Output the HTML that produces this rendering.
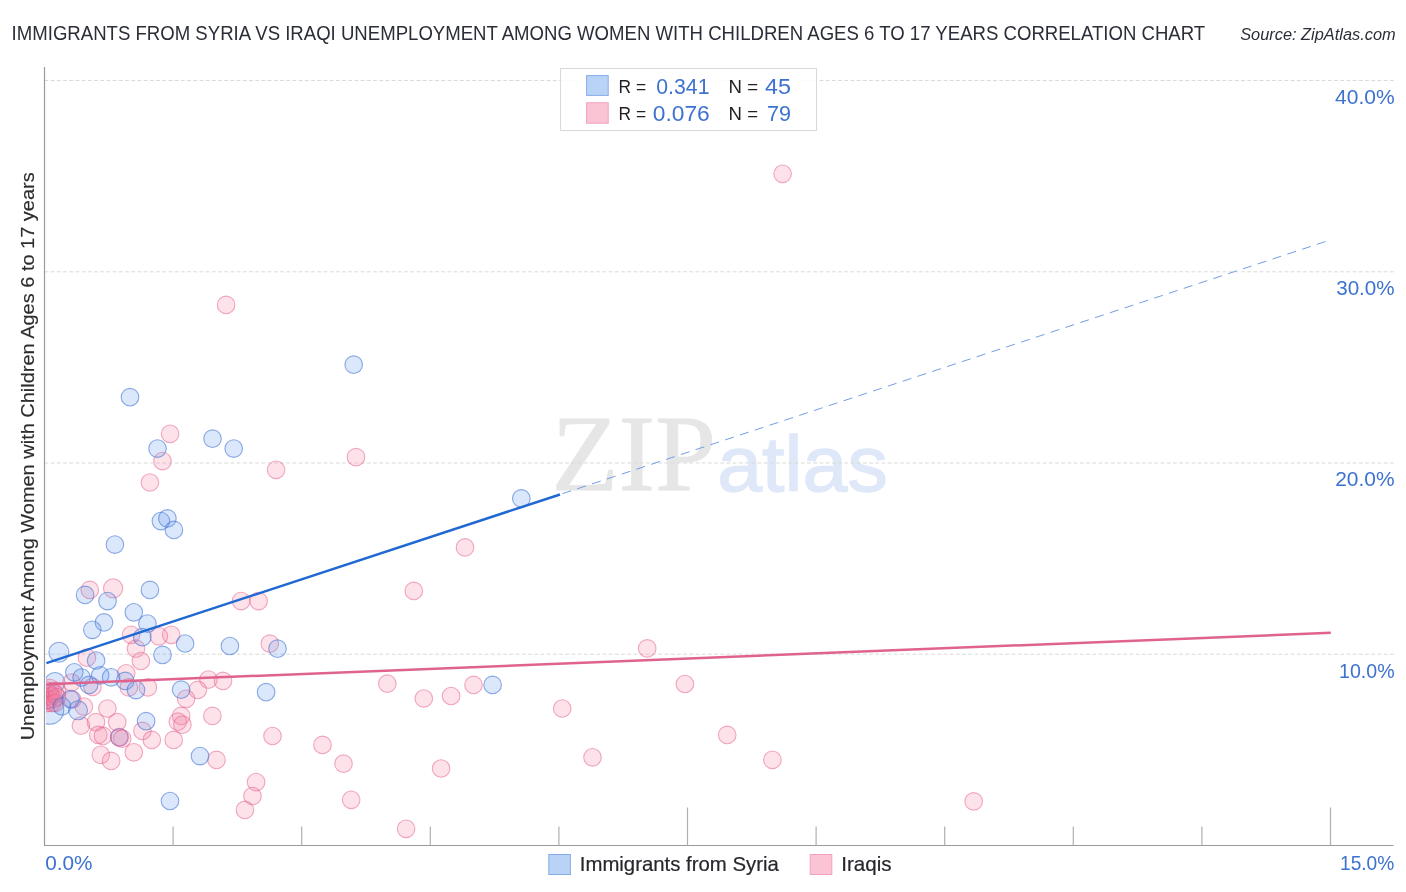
<!DOCTYPE html>
<html lang="en"><head><meta charset="utf-8"><title>Immigrants from Syria vs Iraqi Unemployment Among Women with Children Ages 6 to 17 years Correlation Chart</title>
<style>html,body{margin:0;padding:0;background:#fff}body{width:1406px;height:892px;overflow:hidden}svg{display:block}text{font-family:"Liberation Sans",sans-serif}.ser{font-family:"Liberation Serif",serif}.b{fill:rgba(98,152,235,.23);stroke:rgba(62,112,210,.58);stroke-width:1.1}.p{fill:rgba(245,130,165,.23);stroke:rgba(228,90,135,.5);stroke-width:1.1}</style></head><body>
<svg width="1406" height="892" viewBox="0 0 1406 892">
<rect width="1406" height="892" fill="#fff"/>
<text x="11.6" y="40" font-size="19.6" fill="#2b2e38" textLength="1193.6" lengthAdjust="spacingAndGlyphs">IMMIGRANTS FROM SYRIA VS IRAQI UNEMPLOYMENT AMONG WOMEN WITH CHILDREN AGES 6 TO 17 YEARS CORRELATION CHART</text>
<text x="1240.2" y="39.5" font-size="16" font-style="italic" fill="#2b2e38" textLength="155.5" lengthAdjust="spacingAndGlyphs">Source: ZipAtlas.com</text>
<text class="ser" x="551.5" y="490.4" font-size="108" fill="#e6e6e6" stroke="#e6e6e6" stroke-width="0.8" textLength="164.5" lengthAdjust="spacingAndGlyphs">ZIP</text>
<text x="717.2" y="490.6" font-size="77" fill="#dfe8f8" stroke="#dfe8f8" stroke-width="1.3" textLength="170.6" lengthAdjust="spacingAndGlyphs">atlas</text>
<line x1="44.5" y1="654.2" x2="1394" y2="654.2" stroke="#d9d9d9" stroke-width="1" stroke-dasharray="3.8 2.4"/>
<line x1="44.5" y1="463.0" x2="1394" y2="463.0" stroke="#d9d9d9" stroke-width="1" stroke-dasharray="3.8 2.4"/>
<line x1="44.5" y1="271.8" x2="1394" y2="271.8" stroke="#d9d9d9" stroke-width="1" stroke-dasharray="3.8 2.4"/>
<line x1="44.5" y1="80.5" x2="1394" y2="80.5" stroke="#d9d9d9" stroke-width="1" stroke-dasharray="3.8 2.4"/>
<line x1="44.5" y1="67" x2="44.5" y2="845.5" stroke="#9a9a9a" stroke-width="1.2"/>
<line x1="44.0" y1="845.5" x2="1393.5" y2="845.5" stroke="#9a9a9a" stroke-width="1.2"/>
<line x1="173.1" y1="826.5" x2="173.1" y2="845.5" stroke="#b0b0b0" stroke-width="1.2"/>
<line x1="301.7" y1="826.5" x2="301.7" y2="845.5" stroke="#b0b0b0" stroke-width="1.2"/>
<line x1="430.3" y1="826.5" x2="430.3" y2="845.5" stroke="#b0b0b0" stroke-width="1.2"/>
<line x1="558.9" y1="826.5" x2="558.9" y2="845.5" stroke="#b0b0b0" stroke-width="1.2"/>
<line x1="687.5" y1="807.5" x2="687.5" y2="845.5" stroke="#b0b0b0" stroke-width="1.2"/>
<line x1="816.1" y1="826.5" x2="816.1" y2="845.5" stroke="#b0b0b0" stroke-width="1.2"/>
<line x1="944.7" y1="826.5" x2="944.7" y2="845.5" stroke="#b0b0b0" stroke-width="1.2"/>
<line x1="1073.3" y1="826.5" x2="1073.3" y2="845.5" stroke="#b0b0b0" stroke-width="1.2"/>
<line x1="1201.9" y1="826.5" x2="1201.9" y2="845.5" stroke="#b0b0b0" stroke-width="1.2"/>
<line x1="1330.5" y1="807.5" x2="1330.5" y2="845.5" stroke="#b0b0b0" stroke-width="1.2"/>
<text transform="translate(33.7,740.3) rotate(-90)" font-size="18.4" fill="#2c2c2c" stroke="#2c2c2c" stroke-width="0.15" textLength="568" lengthAdjust="spacingAndGlyphs">Unemployment Among Women with Children Ages 6 to 17 years</text>
<text x="1335.0" y="104.1" font-size="19.8" fill="#3d72d0" textLength="59.59999999999991" lengthAdjust="spacingAndGlyphs">40.0%</text>
<text x="1336.2" y="295.2" font-size="19.8" fill="#3d72d0" textLength="58.399999999999864" lengthAdjust="spacingAndGlyphs">30.0%</text>
<text x="1335.2" y="486.2" font-size="19.8" fill="#3d72d0" textLength="59.399999999999864" lengthAdjust="spacingAndGlyphs">20.0%</text>
<text x="1339.0" y="677.8" font-size="19.8" fill="#3d72d0" textLength="55.59999999999991" lengthAdjust="spacingAndGlyphs">10.0%</text>
<text x="45.2" y="869.6" font-size="19.8" fill="#3d72d0" textLength="47.3" lengthAdjust="spacingAndGlyphs">0.0%</text>
<text x="1340" y="869.6" font-size="19.8" fill="#3d72d0" textLength="54.3" lengthAdjust="spacingAndGlyphs">15.0%</text>
<clipPath id="cp"><rect x="46" y="60" width="1350" height="785.5"/></clipPath><g clip-path="url(#cp)">
<circle class="b" cx="58.9" cy="652.2" r="10"/>
<circle class="b" cx="119.2" cy="737.2" r="8.8"/>
<circle class="b" cx="50" cy="710.5" r="13.7"/>
<circle class="b" cx="55" cy="682.5" r="10"/>
<circle class="b" cx="47" cy="700" r="8.8"/>
<circle class="b" cx="50" cy="694" r="8.8"/>
<circle class="p" cx="782.6" cy="173.8" r="8.8"/>
<circle class="p" cx="647.2" cy="648.4" r="8.8"/>
<circle class="p" cx="684.9" cy="684" r="8.8"/>
<circle class="p" cx="562.2" cy="708.5" r="8.8"/>
<circle class="p" cx="727.2" cy="734.9" r="8.8"/>
<circle class="p" cx="592.5" cy="757.3" r="8.8"/>
<circle class="p" cx="772.4" cy="759.8" r="8.8"/>
<circle class="p" cx="973.7" cy="801.4" r="8.8"/>
<circle class="p" cx="356.0" cy="457.2" r="8.8"/>
<circle class="p" cx="465.0" cy="547.4" r="8.8"/>
<circle class="p" cx="413.8" cy="590.9" r="8.8"/>
<circle class="p" cx="387.3" cy="683.7" r="8.8"/>
<circle class="p" cx="423.8" cy="698.5" r="8.8"/>
<circle class="p" cx="451.1" cy="696.0" r="8.8"/>
<circle class="p" cx="473.5" cy="684.9" r="8.8"/>
<circle class="p" cx="322.5" cy="744.9" r="8.8"/>
<circle class="p" cx="343.5" cy="763.7" r="8.8"/>
<circle class="p" cx="441.1" cy="768.5" r="8.8"/>
<circle class="p" cx="351.2" cy="799.8" r="8.8"/>
<circle class="p" cx="406.1" cy="828.8" r="8.8"/>
<circle class="p" cx="226.1" cy="304.9" r="8.8"/>
<circle class="p" cx="170.1" cy="433.8" r="8.8"/>
<circle class="p" cx="162.5" cy="461.1" r="8.8"/>
<circle class="p" cx="276.1" cy="469.8" r="8.8"/>
<circle class="p" cx="149.9" cy="482.5" r="8.8"/>
<circle class="p" cx="89.8" cy="589.9" r="8.8"/>
<circle class="p" cx="113.1" cy="588.4" r="9.6"/>
<circle class="p" cx="131.1" cy="634.8" r="8.8"/>
<circle class="p" cx="158.9" cy="636.3" r="8.8"/>
<circle class="p" cx="171.2" cy="634.8" r="8.8"/>
<circle class="p" cx="241.1" cy="601.1" r="8.8"/>
<circle class="p" cx="258.6" cy="601.1" r="8.8"/>
<circle class="p" cx="269.8" cy="643.7" r="8.8"/>
<circle class="p" cx="136.0" cy="648.7" r="8.8"/>
<circle class="p" cx="140.9" cy="661.0" r="8.8"/>
<circle class="p" cx="86.9" cy="657.7" r="8.8"/>
<circle class="p" cx="92.5" cy="686.9" r="8.8"/>
<circle class="p" cx="126.2" cy="673.3" r="8.8"/>
<circle class="p" cx="128.8" cy="687.4" r="8.8"/>
<circle class="p" cx="147.9" cy="687.4" r="8.8"/>
<circle class="p" cx="107.4" cy="708.6" r="8.8"/>
<circle class="p" cx="96.0" cy="722.2" r="8.8"/>
<circle class="p" cx="117.2" cy="722.2" r="8.8"/>
<circle class="p" cx="80.9" cy="725.7" r="8.8"/>
<circle class="p" cx="83.9" cy="706.6" r="8.8"/>
<circle class="p" cx="72.3" cy="699.5" r="8.8"/>
<circle class="p" cx="208.4" cy="679.6" r="8.8"/>
<circle class="p" cx="223.0" cy="680.9" r="8.8"/>
<circle class="p" cx="197.8" cy="689.9" r="8.8"/>
<circle class="p" cx="186.1" cy="698.8" r="8.8"/>
<circle class="p" cx="212.4" cy="715.9" r="8.8"/>
<circle class="p" cx="181.2" cy="715.9" r="8.8"/>
<circle class="p" cx="177.8" cy="721.7" r="8.8"/>
<circle class="p" cx="182.4" cy="724.7" r="8.8"/>
<circle class="p" cx="98.3" cy="734.9" r="8.8"/>
<circle class="p" cx="103.0" cy="735.9" r="8.8"/>
<circle class="p" cx="122.2" cy="738.7" r="8.8"/>
<circle class="p" cx="142.4" cy="730.9" r="8.8"/>
<circle class="p" cx="151.8" cy="739.9" r="8.8"/>
<circle class="p" cx="173.7" cy="739.9" r="8.8"/>
<circle class="p" cx="133.8" cy="752.3" r="8.8"/>
<circle class="p" cx="100.8" cy="754.8" r="8.8"/>
<circle class="p" cx="111.1" cy="760.9" r="8.8"/>
<circle class="p" cx="272.5" cy="736.0" r="8.8"/>
<circle class="p" cx="216.5" cy="759.9" r="8.8"/>
<circle class="p" cx="256.1" cy="782.1" r="8.8"/>
<circle class="p" cx="252.5" cy="796.0" r="8.8"/>
<circle class="p" cx="244.9" cy="809.9" r="8.8"/>
<circle class="p" cx="46" cy="690" r="8.8"/>
<circle class="p" cx="46" cy="697" r="8.8"/>
<circle class="p" cx="47" cy="703" r="8.8"/>
<circle class="p" cx="48" cy="693" r="8.8"/>
<circle class="p" cx="49" cy="700" r="8.8"/>
<circle class="p" cx="50" cy="688" r="8.8"/>
<circle class="p" cx="51" cy="696" r="8.8"/>
<circle class="p" cx="52" cy="703" r="8.8"/>
<circle class="p" cx="53" cy="691" r="8.8"/>
<circle class="p" cx="54" cy="699" r="8.8"/>
<circle class="p" cx="55" cy="694" r="8.8"/>
<circle class="p" cx="57" cy="691" r="8.8"/>
<circle class="p" cx="57" cy="697" r="8.8"/>
<circle class="p" cx="55" cy="703" r="8.8"/>
<circle class="p" cx="71.5" cy="682.5" r="8.8"/>
<circle class="p" cx="119.6" cy="737.5" r="8.8"/>
<circle class="b" cx="353.7" cy="364.7" r="8.8"/>
<circle class="b" cx="521.3" cy="498.4" r="8.8"/>
<circle class="b" cx="492.6" cy="684.9" r="8.8"/>
<circle class="b" cx="130.0" cy="397.2" r="8.8"/>
<circle class="b" cx="212.5" cy="438.7" r="8.8"/>
<circle class="b" cx="157.5" cy="448.6" r="8.8"/>
<circle class="b" cx="233.7" cy="448.6" r="8.8"/>
<circle class="b" cx="160.9" cy="521.1" r="8.8"/>
<circle class="b" cx="167.4" cy="518.4" r="8.8"/>
<circle class="b" cx="173.9" cy="529.9" r="8.8"/>
<circle class="b" cx="114.9" cy="544.6" r="8.8"/>
<circle class="b" cx="85.1" cy="594.9" r="8.8"/>
<circle class="b" cx="107.5" cy="601.1" r="8.8"/>
<circle class="b" cx="149.9" cy="589.9" r="8.8"/>
<circle class="b" cx="133.8" cy="612.3" r="8.8"/>
<circle class="b" cx="104.0" cy="622.4" r="8.8"/>
<circle class="b" cx="92.3" cy="629.8" r="8.8"/>
<circle class="b" cx="147.4" cy="623.6" r="8.8"/>
<circle class="b" cx="142.3" cy="637.2" r="8.8"/>
<circle class="b" cx="185.1" cy="643.5" r="8.8"/>
<circle class="b" cx="229.9" cy="646.0" r="8.8"/>
<circle class="b" cx="277.5" cy="648.7" r="8.8"/>
<circle class="b" cx="162.5" cy="654.9" r="8.8"/>
<circle class="b" cx="96.1" cy="660.5" r="8.8"/>
<circle class="b" cx="74.3" cy="672.3" r="8.8"/>
<circle class="b" cx="81.6" cy="677.5" r="8.8"/>
<circle class="b" cx="100.2" cy="675.3" r="8.8"/>
<circle class="b" cx="111.1" cy="677.3" r="8.8"/>
<circle class="b" cx="89.1" cy="684.9" r="8.8"/>
<circle class="b" cx="125.2" cy="680.9" r="8.8"/>
<circle class="b" cx="136.0" cy="690.1" r="8.8"/>
<circle class="b" cx="181.1" cy="689.7" r="8.8"/>
<circle class="b" cx="266.1" cy="692.2" r="8.8"/>
<circle class="b" cx="78.0" cy="710.3" r="9.5"/>
<circle class="b" cx="146.1" cy="721.2" r="8.8"/>
<circle class="b" cx="200.0" cy="756.1" r="8.8"/>
<circle class="b" cx="170.0" cy="801.0" r="8.8"/>
<circle class="b" cx="62.0" cy="706.3" r="8.8"/>
<circle class="b" cx="70.6" cy="699.2" r="8.8"/>
</g>
<line x1="46.4" y1="684.2" x2="1330.8" y2="632.8" stroke="#e0638f" stroke-width="2.5"/>
<line x1="46.4" y1="663.1" x2="560" y2="494.5" stroke="#2068d2" stroke-width="2.45"/>
<line x1="560" y1="494.5" x2="1330.5" y2="239.9" stroke="#6c98e3" stroke-width="0.95" stroke-dasharray="9.1 6.48" stroke-dashoffset="-2.6"/>
<rect x="560.5" y="68.5" width="256" height="62" fill="#fff" fill-opacity="0.85" stroke="#d9d9d9" stroke-width="1"/>
<rect x="586.6" y="75.6" width="21.6" height="19.8" fill="#b9d3f6" stroke="#86ace8" stroke-width="1"/>
<rect x="586.6" y="102.8" width="21.6" height="20.4" fill="#fbc4d4" stroke="#f3a0b9" stroke-width="1"/>
<text x="618.6" y="92.9" font-size="19" fill="#1f1f24" textLength="27.5" lengthAdjust="spacingAndGlyphs">R =</text>
<text x="656.3" y="93.9" font-size="22" fill="#3d72d0" textLength="53.2" lengthAdjust="spacingAndGlyphs">0.341</text>
<text x="728.6" y="92.9" font-size="19" fill="#1f1f24" textLength="29.5" lengthAdjust="spacingAndGlyphs">N =</text>
<text x="765.0" y="93.9" font-size="22" fill="#3d72d0" textLength="26" lengthAdjust="spacingAndGlyphs">45</text>
<text x="618.6" y="119.8" font-size="19" fill="#1f1f24" textLength="27.5" lengthAdjust="spacingAndGlyphs">R =</text>
<text x="652.8" y="120.8" font-size="22" fill="#3d72d0" textLength="57" lengthAdjust="spacingAndGlyphs">0.076</text>
<text x="728.6" y="119.8" font-size="19" fill="#1f1f24" textLength="29.5" lengthAdjust="spacingAndGlyphs">N =</text>
<text x="767.0" y="120.8" font-size="22" fill="#3d72d0" textLength="24" lengthAdjust="spacingAndGlyphs">79</text>
<rect x="548.8" y="854.5" width="21.6" height="20" fill="#b9d3f6" stroke="#86ace8" stroke-width="1"/>
<text x="579.8" y="870.5" font-size="19.8" fill="#26262c" stroke="#26262c" stroke-width="0.2" textLength="199" lengthAdjust="spacingAndGlyphs">Immigrants from Syria</text>
<rect x="810.2" y="854.5" width="21.6" height="20" fill="#fbc4d4" stroke="#f3a0b9" stroke-width="1"/>
<text x="841.2" y="870.5" font-size="19.8" fill="#26262c" stroke="#26262c" stroke-width="0.2" textLength="50.3" lengthAdjust="spacingAndGlyphs">Iraqis</text>
</svg></body></html>
